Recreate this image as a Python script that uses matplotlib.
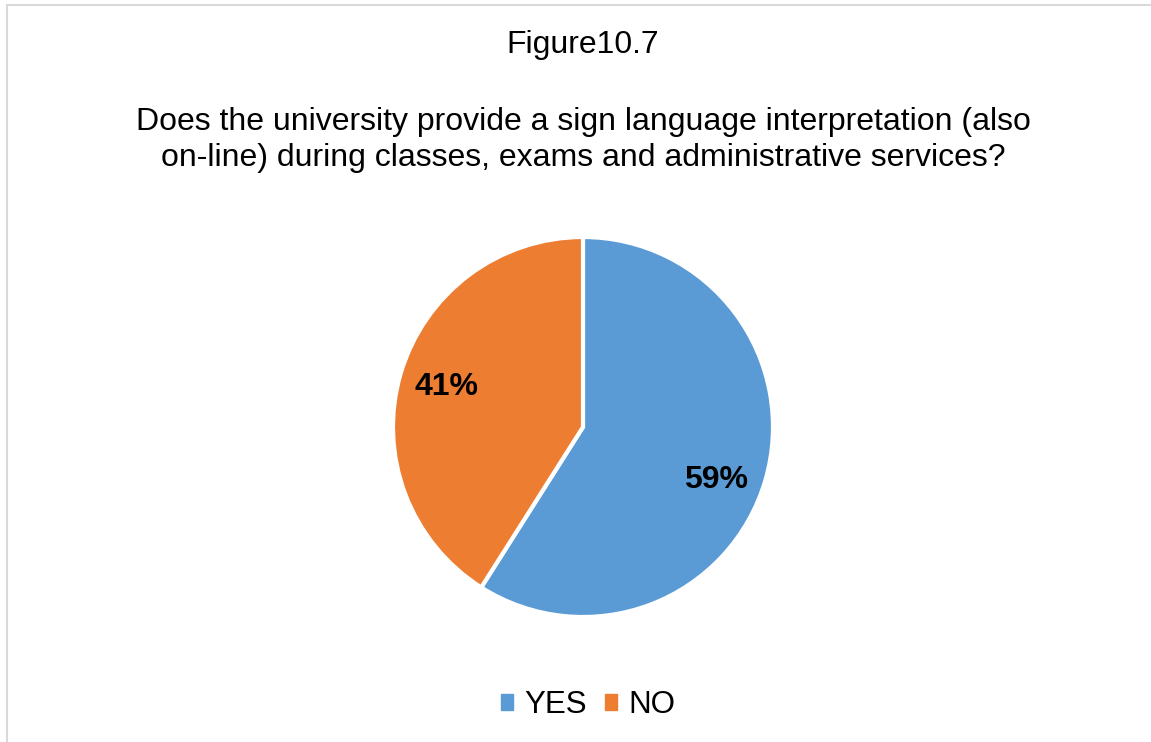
import matplotlib
matplotlib.use("Agg")
import matplotlib.pyplot as plt
from matplotlib.lines import Line2D

plt.rcParams['font.family'] = ['Liberation Sans', 'DejaVu Sans']

categories = ["YES", "NO"]
shares = [59, 41]
colors = ["#5B9BD5", "#ED7D31"]
figure_label = "Figure10.7"
question = ("Does the university provide a sign language interpretation (also\n"
            "on-line) during classes, exams and administrative services?")

W, H = 1151, 742
fig = plt.figure(figsize=(W / 100, H / 100), dpi=100)
fig.patch.set_facecolor("white")

# thin frame edges along the top and left
fig.add_artist(Line2D([6.5 / W, 1], [1 - 4.5 / H, 1 - 4.5 / H], color="#d9d9d9", lw=1.5,
                      transform=fig.transFigure))
fig.add_artist(Line2D([6.5 / W, 6.5 / W], [0, 1 - 4.5 / H], color="#d9d9d9", lw=1.5,
                      transform=fig.transFigure))

fig.text(583 / W, 1 - 45 / H, figure_label, ha="center", va="center", fontsize=23)
fig.text(583 / W, 1 - 140 / H, question, ha="center", va="center", fontsize=23,
         linespacing=1.22)

# pie axes: centre (583, 427), radius 190 px
cx, cy, r = 583, 427, 190
ax = fig.add_axes([(cx - r) / W, 1 - (cy + r) / H, 2 * r / W, 2 * r / H])
wedges, texts, autotexts = ax.pie(
    shares, colors=colors, startangle=90, counterclock=False,
    autopct=lambda p: f"{p:.0f}%", pctdistance=0.75,
    wedgeprops=dict(edgecolor="white", linewidth=3),
    textprops=dict(fontsize=23, fontweight="bold", color="black"),
    radius=1.0)
# the larger slice's label sits a little lower in its wedge
x0, y0 = autotexts[0].get_position()
autotexts[0].set_position((x0 - 0.02, y0 - 0.07))
ax.set_xlim(-1, 1)
ax.set_ylim(-1, 1)
ax.set_aspect("equal")
ax.axis("off")

handles = [plt.Rectangle((0, 0), 1, 1, color=c) for c in colors]
fig.legend(handles, categories, loc="center", bbox_to_anchor=(588 / W, 1 - 705 / H),
           ncol=2, frameon=False, fontsize=22.5, handlelength=0.38, handleheight=0.38,
           handletextpad=0.35, columnspacing=0.6)

fig.savefig("out.png", dpi=100, facecolor="white")
